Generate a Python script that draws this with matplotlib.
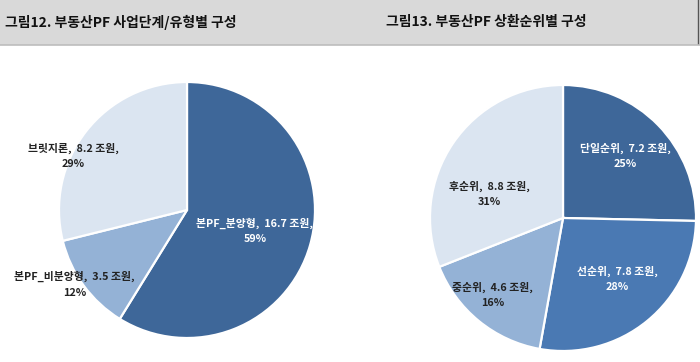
import matplotlib
matplotlib.use("Agg")

import matplotlib.pyplot as plt
from matplotlib.patches import Rectangle

plt.rcParams["font.family"] = ["Noto Sans CJK KR", "DejaVu Sans"]

# 그림12: 사업단계/유형별
STAGE_NAMES = ["본PF_분양형", "본PF_비분양형", "브릿지론"]
STAGE_VALUES = [16.7, 3.5, 8.2]
STAGE_PCTS = [59, 12, 29]

# 그림13: 상환순위별
RANK_NAMES = ["단일순위", "선순위", "중순위", "후순위"]
RANK_VALUES = [7.2, 7.8, 4.6, 8.8]
RANK_PCTS = [25, 28, 16, 31]

TITLES = ["그림12. 부동산PF 사업단계/유형별 구성", "그림13. 부동산PF 상환순위별 구성"]

# styling / layout
DARK, MID, LIGHT_MID, LIGHT = "#3e6799", "#4a79b3", "#94b2d6", "#dbe5f1"
STAGE_COLORS = [DARK, LIGHT_MID, LIGHT]
RANK_COLORS = [DARK, MID, LIGHT_MID, LIGHT]
STAGE_TEXT = ["white", "#222222", "#222222"]
RANK_TEXT = ["white", "white", "#222222", "#222222"]
STAGE_LABEL_XY = [(0.53, -0.16), (-0.88, -0.58), (-0.89, 0.42)]
RANK_LABEL_XY = [(0.47, 0.47), (0.41, -0.46), (-0.53, -0.58), (-0.55, 0.18)]

W, H = 700, 362


def draw_pie(fig, center, radius, values, names, pcts, colors, text_colors, label_xy):
    cx, cy = center
    ax = fig.add_axes([(cx - radius) / W, (H - cy - radius) / H, 2 * radius / W, 2 * radius / H])
    ax.pie(values, colors=colors, startangle=90, counterclock=False,
           wedgeprops=dict(edgecolor="white", linewidth=1.6))
    ax.set_xlim(-1, 1)
    ax.set_ylim(-1, 1)
    ax.set_aspect("equal")
    ax.axis("off")
    for name, val, pct, tc, (x, y) in zip(names, values, pcts, text_colors, label_xy):
        ax.text(x, y, f"{name},  {val} 조원,\n{pct}%", ha="center", va="center",
                fontsize=7.8, fontweight="bold", color=tc, linespacing=1.65, clip_on=False)
    return ax


fig = plt.figure(figsize=(W / 100, H / 100), dpi=100)
fig.patch.set_facecolor("white")

# header band
fig.patches.append(Rectangle((0, 1 - 45 / H), 1, 45 / H, transform=fig.transFigure,
                             facecolor="#d9d9d9", edgecolor="none", zorder=0))
fig.lines.append(plt.Line2D([0, 1], [1 - 45 / H, 1 - 45 / H], transform=fig.transFigure,
                            color="#bdbdbd", linewidth=1.2))
fig.lines.append(plt.Line2D([698 / W, 698 / W], [1, 1 - 43 / H], transform=fig.transFigure,
                            color="#555555", linewidth=1.0))
fig.text(5 / W, 1 - 22 / H, TITLES[0], fontsize=10, fontweight="bold", color="#111111",
         va="center", ha="left")
fig.text(386 / W, 1 - 22 / H, TITLES[1], fontsize=10, fontweight="bold", color="#111111",
         va="center", ha="left")

draw_pie(fig, (187, 210), 128, STAGE_VALUES, STAGE_NAMES, STAGE_PCTS,
         STAGE_COLORS, STAGE_TEXT, STAGE_LABEL_XY)
draw_pie(fig, (563, 218), 133, RANK_VALUES, RANK_NAMES, RANK_PCTS,
         RANK_COLORS, RANK_TEXT, RANK_LABEL_XY)

fig.savefig("out.png", dpi=100)
